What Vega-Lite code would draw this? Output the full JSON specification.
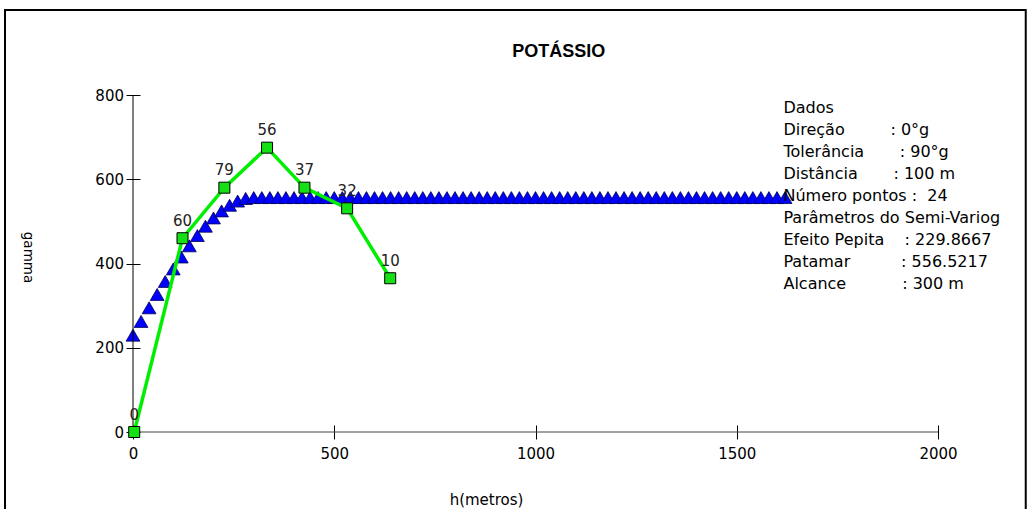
{
  "$schema": "https://vega.github.io/schema/vega-lite/v6.json",
  "width": 805,
  "height": 337,
  "autosize": "none",
  "padding": {"left": 133, "top": 95, "right": 91, "bottom": 77},
  "background": "white",
  "config": {
    "view": {"stroke": null},
    "font": "DejaVu Sans",
    "axisX": {"domain": false, "grid": false, "tickSize": 14, "offset": -7, "tickColor": "black",
      "labelFont": "DejaVu Sans", "labelFontSize": 15, "labelColor": "black", "labelPadding": 7, "labelFlush": false,
      "titleFont": "DejaVu Sans", "titleFontSize": 15, "titleFontWeight": "normal", "titleColor": "black",
      "titleX": 353, "titleY": 74, "titleBaseline": "middle", "titleAnchor": "middle"},
    "axisY": {"domain": false, "grid": false, "tickSize": 14, "offset": -7, "tickColor": "black",
      "labelFont": "DejaVu Sans", "labelFontSize": 15, "labelColor": "black", "labelPadding": 2.5, "labelFlush": false,
      "titleFont": "DejaVu Sans", "titleFontSize": 13.5, "titleFontWeight": "normal", "titleColor": "black",
      "titleAngle": 90, "titleX": -113, "titleY": 162, "titleBaseline": "middle", "titleAlign": "center"}
  },
  "datasets": {
    "modelo": [
      {"h": 0, "gamma": 229.87}, {"h": 20, "gamma": 262.48}, {"h": 40, "gamma": 294.81}, {"h": 60, "gamma": 326.56},
      {"h": 80, "gamma": 357.43}, {"h": 100, "gamma": 387.15}, {"h": 120, "gamma": 415.41}, {"h": 140, "gamma": 441.93},
      {"h": 160, "gamma": 466.41}, {"h": 180, "gamma": 488.58}, {"h": 200, "gamma": 508.13}, {"h": 220, "gamma": 524.78},
      {"h": 240, "gamma": 538.23}, {"h": 260, "gamma": 548.2}, {"h": 280, "gamma": 554.41}, {"h": 300, "gamma": 556.52},
      {"h": 320, "gamma": 556.52}, {"h": 340, "gamma": 556.52}, {"h": 360, "gamma": 556.52}, {"h": 380, "gamma": 556.52},
      {"h": 400, "gamma": 556.52}, {"h": 420, "gamma": 556.52}, {"h": 440, "gamma": 556.52}, {"h": 460, "gamma": 556.52},
      {"h": 480, "gamma": 556.52}, {"h": 500, "gamma": 556.52}, {"h": 520, "gamma": 556.52}, {"h": 540, "gamma": 556.52},
      {"h": 560, "gamma": 556.52}, {"h": 580, "gamma": 556.52}, {"h": 600, "gamma": 556.52}, {"h": 620, "gamma": 556.52},
      {"h": 640, "gamma": 556.52}, {"h": 660, "gamma": 556.52}, {"h": 680, "gamma": 556.52}, {"h": 700, "gamma": 556.52},
      {"h": 720, "gamma": 556.52}, {"h": 740, "gamma": 556.52}, {"h": 760, "gamma": 556.52}, {"h": 780, "gamma": 556.52},
      {"h": 800, "gamma": 556.52}, {"h": 820, "gamma": 556.52}, {"h": 840, "gamma": 556.52}, {"h": 860, "gamma": 556.52},
      {"h": 880, "gamma": 556.52}, {"h": 900, "gamma": 556.52}, {"h": 920, "gamma": 556.52}, {"h": 940, "gamma": 556.52},
      {"h": 960, "gamma": 556.52}, {"h": 980, "gamma": 556.52}, {"h": 1000, "gamma": 556.52}, {"h": 1020, "gamma": 556.52},
      {"h": 1040, "gamma": 556.52}, {"h": 1060, "gamma": 556.52}, {"h": 1080, "gamma": 556.52}, {"h": 1100, "gamma": 556.52},
      {"h": 1120, "gamma": 556.52}, {"h": 1140, "gamma": 556.52}, {"h": 1160, "gamma": 556.52}, {"h": 1180, "gamma": 556.52},
      {"h": 1200, "gamma": 556.52}, {"h": 1220, "gamma": 556.52}, {"h": 1240, "gamma": 556.52}, {"h": 1260, "gamma": 556.52},
      {"h": 1280, "gamma": 556.52}, {"h": 1300, "gamma": 556.52}, {"h": 1320, "gamma": 556.52}, {"h": 1340, "gamma": 556.52},
      {"h": 1360, "gamma": 556.52}, {"h": 1380, "gamma": 556.52}, {"h": 1400, "gamma": 556.52}, {"h": 1420, "gamma": 556.52},
      {"h": 1440, "gamma": 556.52}, {"h": 1460, "gamma": 556.52}, {"h": 1480, "gamma": 556.52}, {"h": 1500, "gamma": 556.52},
      {"h": 1520, "gamma": 556.52}, {"h": 1540, "gamma": 556.52}, {"h": 1560, "gamma": 556.52}, {"h": 1580, "gamma": 556.52},
      {"h": 1600, "gamma": 556.52}, {"h": 1620, "gamma": 556.52}
    ],
    "experimental": [
      {"h": 3, "gamma": 0, "pares": 0},
      {"h": 123, "gamma": 460, "pares": 60},
      {"h": 227, "gamma": 580, "pares": 79},
      {"h": 333, "gamma": 675, "pares": 56},
      {"h": 426, "gamma": 580, "pares": 37},
      {"h": 532, "gamma": 531, "pares": 32},
      {"h": 639, "gamma": 365, "pares": 10}
    ]
  },
  "layer": [
    {
      "data": {"name": "modelo"},
      "mark": {"type": "point", "shape": "triangle-up", "filled": true, "fill": "#0000ff", "stroke": "#000050", "strokeWidth": 0.8, "size": 190, "opacity": 1},
      "encoding": {
        "x": {"field": "h", "type": "quantitative", "scale": {"domain": [0, 2000], "nice": false, "zero": false}, "title": "h(metros)",
          "axis": {"values": [0, 500, 1000, 1500, 2000], "format": "d"}},
        "y": {"field": "gamma", "type": "quantitative", "scale": {"domain": [0, 800], "nice": false, "zero": false}, "title": "gamma",
          "axis": {"values": [0, 200, 400, 600, 800], "format": "d"}}
      }
    },
    {
      "data": {"values": [{}]},
      "mark": {"type": "rect", "filled": false, "stroke": "black", "strokeWidth": 2},
      "encoding": {
        "x": {"datum": -318, "type": "quantitative"},
        "x2": {"datum": 2218},
        "y": {"datum": 1002, "type": "quantitative"},
        "y2": {"datum": -209}
      }
    },
    {
      "data": {"values": [{}]},
      "mark": {"type": "rule", "color": "black", "strokeWidth": 1},
      "encoding": {
        "x": {"datum": 0, "type": "quantitative"},
        "y": {"datum": 0, "type": "quantitative"},
        "y2": {"datum": 800}
      }
    },
    {
      "data": {"values": [{}]},
      "mark": {"type": "rule", "color": "#444444", "strokeWidth": 1},
      "encoding": {
        "x": {"datum": 0, "type": "quantitative"},
        "x2": {"datum": 2000},
        "y": {"datum": 0, "type": "quantitative"}
      }
    },
    {
      "data": {"name": "experimental"},
      "mark": {"type": "line", "color": "#00ee00", "strokeWidth": 3.5},
      "encoding": {
        "x": {"field": "h", "type": "quantitative"},
        "y": {"field": "gamma", "type": "quantitative"}
      }
    },
    {
      "data": {"name": "experimental"},
      "mark": {"type": "point", "shape": "square", "filled": true, "fill": "#14e014", "stroke": "black", "strokeWidth": 1, "size": 121, "opacity": 1},
      "encoding": {
        "x": {"field": "h", "type": "quantitative"},
        "y": {"field": "gamma", "type": "quantitative"}
      }
    },
    {
      "data": {"name": "experimental"},
      "mark": {"type": "text", "dy": -17.5, "baseline": "middle", "align": "center", "font": "DejaVu Sans", "fontSize": 15, "color": "#222222"},
      "encoding": {
        "x": {"field": "h", "type": "quantitative"},
        "y": {"field": "gamma", "type": "quantitative"},
        "text": {"field": "pares", "type": "quantitative"}
      }
    },
    {
      "data": {"values": [{}]},
      "mark": {"type": "text", "align": "center", "baseline": "alphabetic", "font": "Liberation Sans", "fontSize": 18, "fontWeight": "bold", "color": "black", "text": "POTÁSSIO"},
      "encoding": {
        "x": {"datum": 1058, "type": "quantitative"},
        "y": {"datum": 890, "type": "quantitative"}
      }
    },
    {
      "data": {"values": [{}]},
      "mark": {"type": "text", "align": "left", "baseline": "alphabetic", "font": "DejaVu Sans", "fontSize": 16, "color": "black", "lineHeight": 22.1,
        "text": ["Dados",
          "Direção\u00a0\u00a0\u00a0\u00a0\u00a0\u00a0\u00a0\u00a0\u00a0: 0°g",
          "Tolerância\u00a0\u00a0\u00a0\u00a0\u00a0\u00a0\u00a0: 90°g",
          "Distância\u00a0\u00a0\u00a0\u00a0\u00a0\u00a0\u00a0: 100 m",
          "Número pontos :\u00a0\u00a024",
          "Parâmetros do Semi-Variog",
          "Efeito Pepita\u00a0\u00a0\u00a0\u00a0: 229.8667",
          "Patamar\u00a0\u00a0\u00a0\u00a0\u00a0\u00a0\u00a0\u00a0\u00a0\u00a0: 556.5217",
          "Alcance\u00a0\u00a0\u00a0\u00a0\u00a0\u00a0\u00a0\u00a0\u00a0\u00a0\u00a0: 300 m"]},
      "encoding": {
        "x": {"datum": 1616, "type": "quantitative"},
        "y": {"datum": 758, "type": "quantitative"}
      }
    }
  ]
}
